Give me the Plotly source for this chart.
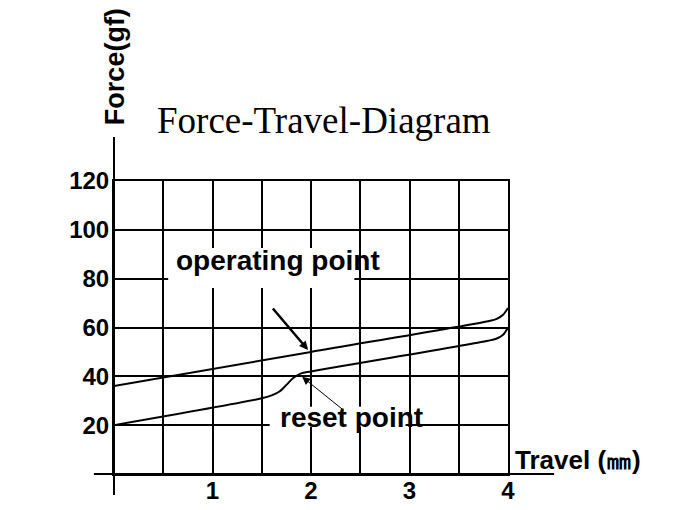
import plotly.graph_objects as go

# force-travel curves (travel in mm, force in gf)
travel_operating = [0.0, 2.0, 3.8, 3.88, 3.95, 4.0]
force_operating = [36.0, 50.0, 62.6, 63.4, 65.2, 68.0]

travel_reset = [0.0, 1.5, 1.6, 1.68, 1.75, 1.82, 1.9, 2.0, 3.8, 3.88, 3.95, 4.0]
force_reset = [20.0, 31.0, 32.2, 33.8, 36.5, 39.3, 41.2, 42.0, 54.6, 55.4, 57.0, 60.0]

x_ticks = [1, 2, 3, 4]
y_ticks = [20, 40, 60, 80, 100, 120]

BOLD = "Liberation Sans, Arial, sans-serif"

fig = go.Figure()
for xs, ys in [(travel_operating, force_operating), (travel_reset, force_reset)]:
    fig.add_trace(go.Scatter(x=xs, y=ys, mode="lines",
                             line=dict(color="black", width=2, shape="spline", smoothing=0.8),
                             hoverinfo="skip", showlegend=False))

grid = dict(showgrid=True, gridcolor="black", gridwidth=2, zeroline=False,
            showline=True, mirror=True, linecolor="black", linewidth=2,
            ticks="", automargin=False,
            tickfont=dict(family=BOLD, size=24, color="black", weight="bold"))

fig.update_xaxes(range=[0, 4], tickmode="array", tickvals=x_ticks, ticklabelstandoff=-6,
                 minor=dict(dtick=0.5, tick0=0, showgrid=True, gridcolor="black", gridwidth=2),
                 **grid)
fig.update_yaxes(range=[0, 120], tickmode="array", tickvals=y_ticks, ticklabelstandoff=-2, **grid)

# white patches where the labels sit on the grid
for x0, x1, y0, y1 in [(0.55, 2.44, 76.2, 92.6), (1.58, 2.96, 19.3, 27.5)]:
    fig.add_shape(type="rect", xref="x", yref="y", x0=x0, x1=x1, y0=y0, y1=y1,
                  fillcolor="white", line=dict(width=0), layer="above")

# axis lines running past the grid
fig.add_shape(type="line", xref="paper", yref="paper", x0=0, x1=0, y0=-0.072, y1=1.15,
              line=dict(color="black", width=2))
fig.add_shape(type="line", xref="paper", yref="paper", x0=-0.051, x1=1.117, y0=0, y1=0,
              line=dict(color="black", width=2))

label_font = dict(family=BOLD, size=28, color="black", weight="bold")
fig.add_annotation(x=1.66, y=87.3, text="operating point", showarrow=False,
                   font=label_font, xanchor="center", yanchor="middle")
fig.add_annotation(x=2.41, y=23.0, text="reset point", showarrow=False,
                   font=label_font, xanchor="center", yanchor="middle")

# pointers
fig.add_annotation(x=1.97, y=50.8, ax=1.60, ay=68.4, axref="x", ayref="y", text="",
                   showarrow=True, arrowhead=2, arrowsize=0.7, arrowwidth=2.5, arrowcolor="black")
fig.add_annotation(x=1.91, y=39.8, ax=2.35, ay=25.5, axref="x", ayref="y", text="",
                   showarrow=True, arrowhead=2, arrowsize=1.6, arrowwidth=1, arrowcolor="black")

fig.add_annotation(xref="paper", yref="paper", x=0.533, y=1.208, text="Force-Travel-Diagram",
                   showarrow=False, xanchor="center", yanchor="middle",
                   font=dict(family="Liberation Serif, serif", size=37, color="black"))
fig.add_annotation(xref="paper", yref="paper", x=0.0025, y=1.392, text="Force(gf)",
                   showarrow=False, textangle=-90, xanchor="center", yanchor="middle",
                   font=dict(family=BOLD, size=27, color="black", weight="bold"))
fig.add_annotation(xref="paper", yref="paper", x=1.0127, y=0.048, text="Travel (㎜)",
                   showarrow=False, xanchor="left", yanchor="middle",
                   font=dict(family=BOLD, size=26, color="black", weight="bold"))

# the page keeps an 8px body margin, so the figure is sized to fit inside the window
fig.update_layout(width=672, height=502, paper_bgcolor="white", plot_bgcolor="white",
                  margin=dict(l=106, r=172, t=173, b=36))

fig.write_html("out.html")
